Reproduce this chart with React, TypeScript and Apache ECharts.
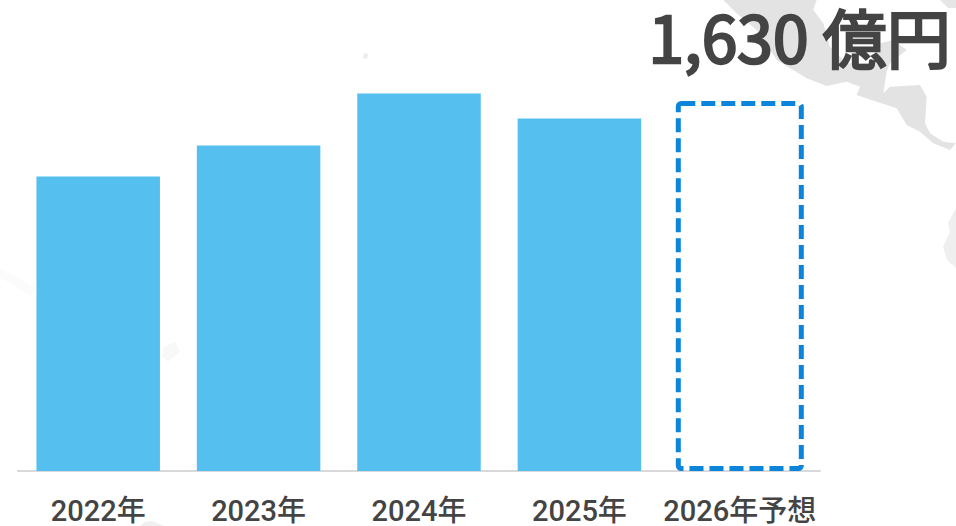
import React, { useEffect, useRef } from "react";
import * as echarts from "echarts";

const categories = ["2022年", "2023年", "2024年", "2025年", "2026年予想"];
const actualValues = [1297, 1434, 1663, 1553, null];
const forecastValues = [null, null, null, null, 1630];
const forecastLabel = "1,630 億円";

const FONT = '"Noto Sans CJK JP", "Noto Sans", sans-serif';
const LABEL_FONT = 'Roboto, "Noto Sans CJK JP", sans-serif';

// Faint decorative world-map patches behind the chart (page pixels)
const central = [
  [100, 0], [140, 40], [200, 90], [260, 180], [350, 235], [410, 258], [470, 245], [510, 260], [500, 285],
  [560, 305], [620, 325], [650, 375], [690, 395], [730, 430], [780, 450], [798, 430], [760, 425], [720, 400],
  [705, 370], [710, 290], [690, 255], [600, 260], [580, 280], [590, 215], [600, 190], [650, 150], [610, 120],
  [570, 130], [540, 190], [470, 190], [420, 140], [400, 70], [370, 30], [380, 0],
].map(([x, y]) => [690 + x / 3, y / 3]);

const mapPatches: { points: number[][]; fill: string }[] = [
  { fill: "#e3e3e3", points: central },
  { fill: "#e6e6e6", points: [[940, 0], [956, 0], [956, 8], [948, 8]] },
  { fill: "#efefef", points: [[956, 208], [948, 223], [950, 232], [943, 247], [947, 260], [956, 268]] },
  { fill: "#f8f8f8", points: [[164, 347], [175, 342], [180, 352], [168, 362], [161, 356]] },
  { fill: "#fbfbfb", points: [[0, 268], [14, 276], [36, 288], [30, 296], [12, 284], [0, 278]] },
  { fill: "#ececec", points: [[364, 53], [368, 54], [367, 59], [363, 58]] },
  { fill: "#f0f0f0", points: [[140, 526], [145, 522], [152, 521], [164, 526]] },
];

export default function App() {
  const ref = useRef<HTMLDivElement>(null);
  useEffect(() => {
    const chart = echarts.init(ref.current!, undefined, { renderer: "svg" });
    chart.setOption({
      animation: false,
      backgroundColor: "#ffffff",
      grid: { left: 18, right: 136, top: 17, bottom: 55 },
      xAxis: [
        {
          type: "category",
          data: categories,
          axisTick: { show: false },
          axisLine: { lineStyle: { color: "#d9d9d9", width: 2 } },
          axisLabel: {
            interval: 0,
            color: "#444444",
            fontFamily: LABEL_FONT,
            fontSize: 29,
            fontWeight: 500,
            margin: 25,
          },
        },
        { type: "category", data: categories, show: false },
      ],
      yAxis: { type: "value", min: 0, max: 2000, show: false, splitLine: { show: false } },
      series: [
        {
          type: "bar",
          data: actualValues,
          barWidth: "77%",
          itemStyle: { color: "#55bff0" },
        },
        {
          type: "bar",
          xAxisIndex: 1,
          data: forecastValues,
          barWidth: "79.8%",
          itemStyle: {
            color: "transparent",
            borderColor: "#0a85d9",
            borderWidth: 5,
            borderType: [14, 6],
            borderRadius: 3,
          },
        },
      ],
      graphic: [
        ...mapPatches.map((p) => ({
          type: "polygon",
          z: -10,
          silent: true,
          shape: { points: p.points },
          style: { fill: p.fill },
        })),
        {
          type: "text",
          right: 4,
          top: 2,
          z: 10,
          style: {
            text: forecastLabel,
            fill: "#444444",
            stroke: "#444444",
            lineWidth: 2.5,
            font: `400 64px ${FONT}`,
          },
        },
      ],
    });
    return () => chart.dispose();
  }, []);
  return <div ref={ref} style={{ position: "fixed", left: 0, top: 0, width: 956, height: 526 }} />;
}
